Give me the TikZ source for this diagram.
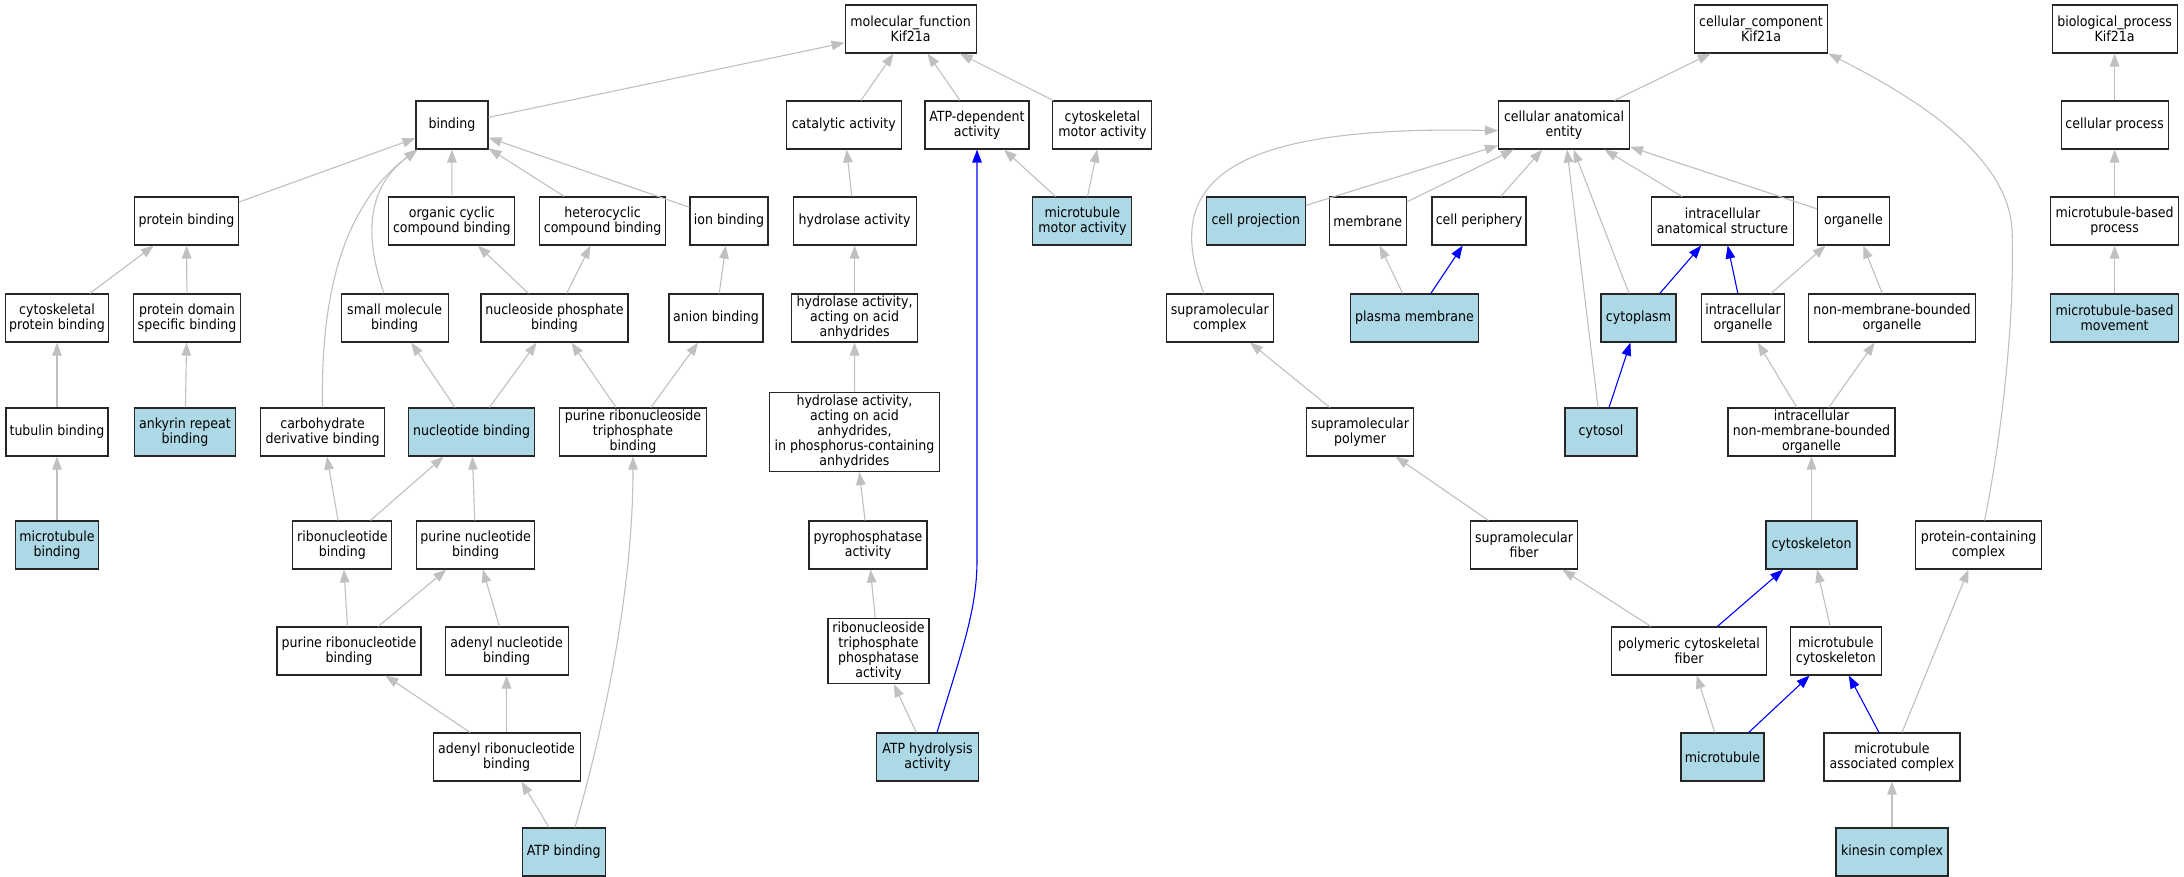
\documentclass[tikz,border=0pt]{standalone}
\usepackage{fontspec}
\setmainfont{DejaVu Sans Condensed}
\usetikzlibrary{arrows.meta}
\definecolor{edgegrey}{RGB}{192,192,192}
\definecolor{lblue}{RGB}{173,216,230}
\begin{document}
\begin{tikzpicture}[x=1pt,y=-1pt,
  box/.style={draw=black!85, line width=1.1pt, fill=white, rectangle, inner sep=0pt, minimum height=48pt, align=center, font=\fontsize{14pt}{15pt}\selectfont},
  hl/.style={box, fill=lblue},
  gedge/.style={draw=edgegrey, line width=1.1pt, -{Triangle[length=13pt,width=9.5pt]}},
  bedge/.style={draw=blue, line width=1.1pt, -{Triangle[length=13pt,width=9.5pt]}}]
\useasboundingbox (0,0) rectangle (2184,877);
\fill[white] (0,0) rectangle (2184,877);
% row 0
\node[box, minimum width=131pt] (mf) at (910.6,29) {molecular\_function\\Kif21a};
\node[box, minimum width=133.5pt] (cc) at (1761,29) {cellular\_component\\Kif21a};
\node[box, minimum width=125pt] (bp) at (2114.6,29) {biological\_process\\Kif21a};
% row 1
\node[box, minimum width=72pt] (binding) at (452,125) {binding};
\node[box, minimum width=114.5pt] (cat) at (843.8,125) {catalytic activity};
\node[box, minimum width=104pt] (atpdep) at (977,125) {ATP-dependent\\activity};
\node[box, minimum width=99pt] (cma) at (1102.4,125) {cytoskeletal\\motor activity};
\node[box, minimum width=131pt] (cae) at (1564,125) {cellular anatomical\\entity};
\node[box, minimum width=107pt] (cp) at (2114.6,125) {cellular process};
% row 2
\node[box, minimum width=104pt] (pb) at (186.5,221) {protein binding};
\node[box, minimum width=126pt] (occb) at (451.8,221) {organic cyclic\\compound binding};
\node[box, minimum width=126pt] (hcb) at (602.6,221) {heterocyclic\\compound binding};
\node[box, minimum width=78pt] (ionb) at (729,221) {ion binding};
\node[box, minimum width=123pt] (hyd) at (854.6,221) {hydrolase activity};
\node[hl, minimum width=99pt] (mma) at (1082.4,221) {microtubule\\motor activity};
\node[hl, minimum width=99pt] (cproj) at (1255.8,221) {cell projection};
\node[box, minimum width=77pt] (mem) at (1367.7,221) {membrane};
\node[box, minimum width=94pt] (cper) at (1479,221) {cell periphery};
\node[box, minimum width=142pt] (ias) at (1722.5,221) {intracellular\\anatomical structure};
\node[box, minimum width=72pt] (org) at (1853.5,221) {organelle};
\node[box, minimum width=128pt] (mbp) at (2114.6,221) {microtubule-based\\process};
% row 3
\node[box, minimum width=103pt] (cpb) at (57,318) {cytoskeletal\\protein binding};
\node[box, minimum width=107pt] (pdsb) at (187,318) {protein domain\\specific binding};
\node[box, minimum width=107pt] (smb) at (394.7,318) {small molecule\\binding};
\node[box, minimum width=147pt] (npb) at (554.5,318) {nucleoside phosphate\\binding};
\node[box, minimum width=94pt] (anb) at (716,318) {anion binding};
\node[box, minimum width=126pt] (hyd2) at (854.6,318) {hydrolase activity,\\acting on acid\\anhydrides};
\node[box, minimum width=107pt] (smc) at (1219.8,318) {supramolecular\\complex};
\node[hl, minimum width=128.5pt] (pm) at (1414.5,318) {plasma membrane};
\node[hl, minimum width=75pt] (cyto) at (1638.5,318) {cytoplasm};
\node[box, minimum width=83pt] (io) at (1743,318) {intracellular\\organelle};
\node[box, minimum width=167pt] (nmbo) at (1892,318) {non-membrane-bounded\\organelle};
\node[hl, minimum width=128pt] (mbm) at (2114.6,318) {microtubule-based\\movement};
% row 4
\node[box, minimum width=102pt] (tb) at (57,432) {tubulin binding};
\node[hl, minimum width=101pt] (arb) at (185,432) {ankyrin repeat\\binding};
\node[box, minimum width=124pt] (cdb) at (322.6,432) {carbohydrate\\derivative binding};
\node[hl, minimum width=126pt] (nb) at (471.6,432) {nucleotide binding};
\node[box, minimum width=147pt] (prtb) at (633,432) {purine ribonucleoside\\triphosphate\\binding};
\node[box, minimum width=170pt, minimum height=79pt] (hyd3) at (854.5,432) {hydrolase activity,\\acting on acid\\anhydrides,\\in phosphorus-containing\\anhydrides};
\node[box, minimum width=107pt] (smp) at (1360,432) {supramolecular\\polymer};
\node[hl, minimum width=72pt] (cytosol) at (1601,432) {cytosol};
\node[box, minimum width=167pt] (inmbo) at (1811.5,432) {intracellular\\non-membrane-bounded\\organelle};
% row 5
\node[hl, minimum width=83pt] (mtb) at (57,545) {microtubule\\binding};
\node[box, minimum width=99pt] (rb) at (342.4,545) {ribonucleotide\\binding};
\node[box, minimum width=118pt] (pnb) at (475.6,545) {purine nucleotide\\binding};
\node[box, minimum width=118pt] (pyro) at (868,545) {pyrophosphatase\\activity};
\node[box, minimum width=107pt] (smf) at (1524,545) {supramolecular\\fiber};
\node[hl, minimum width=91pt] (csk) at (1811.5,545) {cytoskeleton};
\node[box, minimum width=125.5pt] (pcc) at (1978.5,545) {protein-containing\\complex};
% row 6
\node[box, minimum width=144pt] (prb) at (349,651) {purine ribonucleotide\\binding};
\node[box, minimum width=123pt] (adnb) at (506.6,651) {adenyl nucleotide\\binding};
\node[box, minimum width=101pt, minimum height=65pt] (rtpa) at (878.5,651) {ribonucleoside\\triphosphate\\phosphatase\\activity};
\node[box, minimum width=154.5pt] (pcf) at (1689,651) {polymeric cytoskeletal\\fiber};
\node[box, minimum width=91pt] (mtc) at (1835.8,651) {microtubule\\cytoskeleton};
% row 7
\node[box, minimum width=147pt] (arnb) at (506.6,757) {adenyl ribonucleotide\\binding};
\node[hl, minimum width=101.5pt] (atph) at (927.6,757) {ATP hydrolysis\\activity};
\node[hl, minimum width=83pt] (mt) at (1722.5,757) {microtubule};
\node[box, minimum width=136pt] (mac) at (1892,757) {microtubule\\associated complex};
% row 8
\node[hl, minimum width=83pt] (atpb) at (563.8,852) {ATP binding};
\node[hl, minimum width=112pt] (kc) at (1892,852) {kinesin complex};
% ---------- edges: molecular function ----------
\draw[gedge] (binding) -- (mf);
\draw[gedge] (cat) -- (mf);
\draw[gedge] (atpdep) -- (mf);
\draw[gedge] (cma) -- (mf);
\draw[gedge] (pb) -- (binding);
\draw[gedge] (occb) -- (binding);
\draw[gedge] (hcb) -- (binding);
\draw[gedge] (ionb) -- (binding);
\draw[gedge] ([xshift=-10.7pt]smb.north) .. controls (362,230) and (370,185) .. ([xshift=2pt]binding.south west);
\draw[gedge] (cdb.north) .. controls (320,280) and (350,200) .. ([xshift=2pt]binding.south west);
\draw[gedge] (hyd) -- (cat);
\draw[gedge] (mma) -- (atpdep);
\draw[gedge] (mma) -- (cma);
\draw[gedge] (cpb) -- (pb);
\draw[gedge] (pdsb) -- (pb);
\draw[gedge] (npb) -- (occb);
\draw[gedge] (npb) -- (hcb);
\draw[gedge] (anb) -- (ionb);
\draw[gedge] (hyd2) -- (hyd);
\draw[gedge] (tb) -- (cpb);
\draw[gedge] (arb) -- (pdsb);
\draw[gedge] (nb) -- (smb);
\draw[gedge] (nb) -- (npb);
\draw[gedge] (prtb) -- (npb);
\draw[gedge] (prtb) -- (anb);
\draw[gedge] (hyd3) -- (hyd2);
\draw[gedge] (mtb) -- (tb);
\draw[gedge] (rb) -- (cdb);
\draw[gedge] (rb) -- (nb);
\draw[gedge] (pnb) -- (nb);
\draw[gedge] (pyro) -- (hyd3);
\draw[gedge] (prb) -- (rb);
\draw[gedge] (prb) -- (pnb);
\draw[gedge] (adnb) -- (pnb);
\draw[gedge] (rtpa) -- (pyro);
\draw[gedge] (arnb) -- (prb);
\draw[gedge] (arnb) -- (adnb);
\draw[gedge] (atph) -- (rtpa);
\draw[bedge] ([xshift=9.4pt]atph.north) .. controls (962,650) and (977,610) .. (977,560) -- (atpdep.south);
\draw[gedge] (atpb) -- (arnb);
\draw[gedge] ([xshift=11.2pt]atpb.north) .. controls (600,740) and (633,600) .. (prtb.south);
% ---------- edges: cellular component ----------
\draw[gedge] (cae) -- (cc);
\draw[gedge] ([xshift=6pt]pcc.north) .. controls (2005,420) and (2015,300) .. (2012,230) .. controls (2008,150) and (1900,90) .. (cc.south east);
\draw[gedge] ([xshift=-16pt]smc.north) .. controls (1160,180) and (1230,125) .. ([yshift=-5.7pt]cae.west);
\draw[gedge] (cproj) -- (cae);
\draw[gedge] (mem) -- (cae);
\draw[gedge] (cper) -- (cae);
\draw[gedge] (cyto) -- (cae);
\draw[gedge] (cytosol) -- (cae);
\draw[gedge] (ias) -- (cae);
\draw[gedge] (org) -- (cae);
\draw[gedge] (pm) -- (mem);
\draw[bedge] (pm) -- (cper);
\draw[bedge] (cyto) -- (ias);
\draw[bedge] (io) -- (ias);
\draw[gedge] (io) -- (org);
\draw[gedge] (nmbo) -- (org);
\draw[gedge] (smp) -- (smc);
\draw[bedge] (cytosol) -- (cyto);
\draw[gedge] (inmbo) -- (io);
\draw[gedge] (inmbo) -- (nmbo);
\draw[gedge] (smf) -- (smp);
\draw[gedge] (csk) -- (inmbo);
\draw[gedge] (pcf) -- (smf);
\draw[bedge] (pcf) -- (csk);
\draw[gedge] (mtc) -- (csk);
\draw[gedge] (mt) -- (pcf);
\draw[bedge] (mt) -- (mtc);
\draw[bedge] (mac) -- (mtc);
\draw[gedge] (mac) -- (pcc);
\draw[gedge] (kc) -- (mac);
% ---------- edges: biological process ----------
\draw[gedge] (cp) -- (bp);
\draw[gedge] (mbp) -- (cp);
\draw[gedge] (mbm) -- (mbp);
\end{tikzpicture}
\end{document}
